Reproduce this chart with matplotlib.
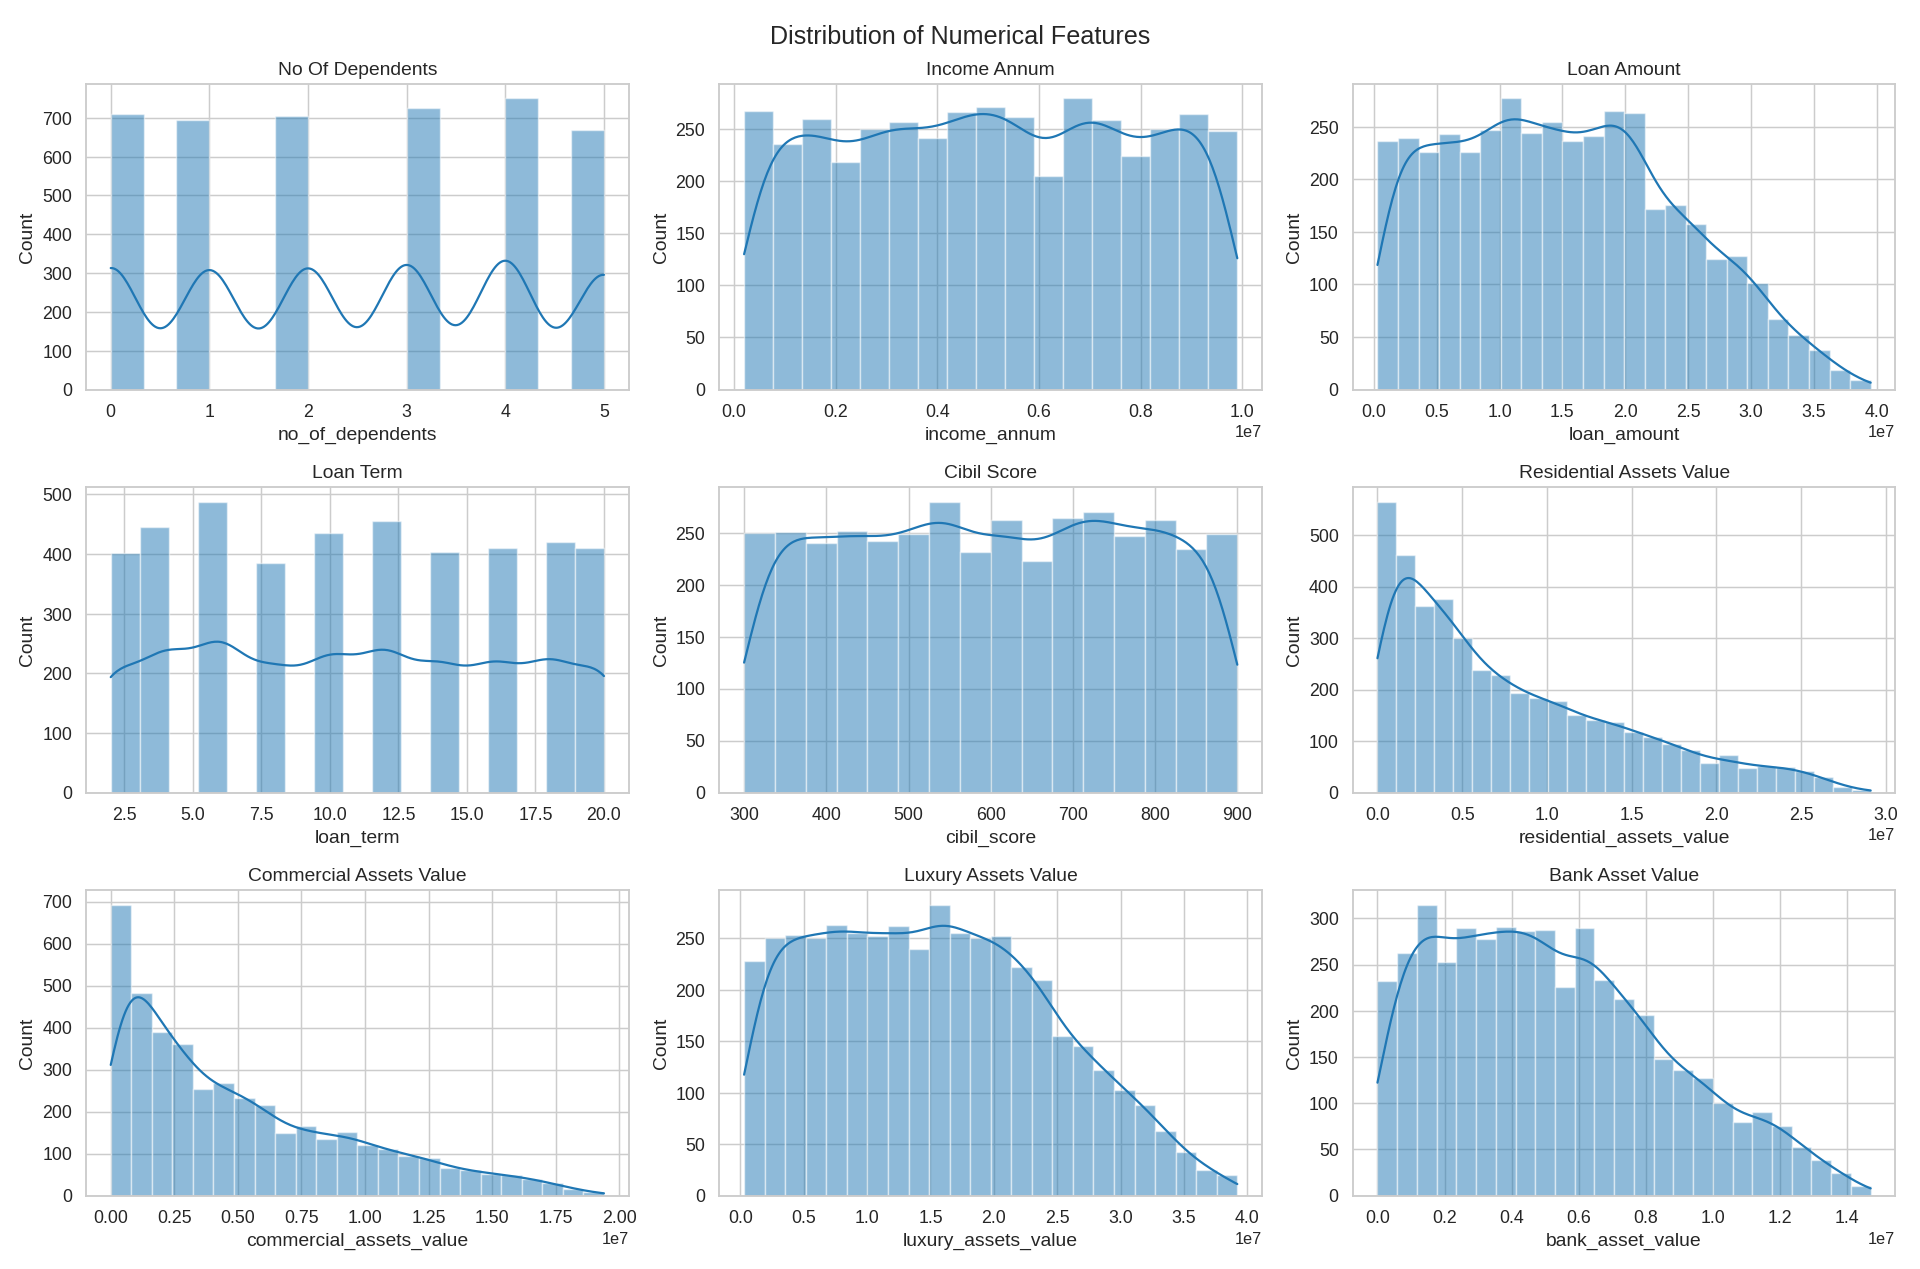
import numpy as np
import matplotlib
matplotlib.use('Agg')
import matplotlib.pyplot as plt
import seaborn as sns

sns.set_theme(style='whitegrid')
plt.rcParams['font.family'] = ['Liberation Sans', 'DejaVu Sans']

# discrete features: values and counts, binned by matplotlib
dep_values = [0, 1, 2, 3, 4, 5]
dep_counts = [710, 695, 705, 725, 750, 670]
term_values = [2, 4, 6, 8, 10, 12, 14, 16, 18, 20]
term_counts = [402, 445, 488, 385, 435, 455, 403, 410, 420, 410]

# continuous features: (range lo, range hi) and bar counts
income_range = (0.2e6, 9.9e6)
income_counts = [267, 235, 259, 218, 250, 256, 241, 266, 271, 261, 205, 279, 258, 224, 250, 264, 248]
loan_range = (0.3e6, 39.5e6)
loan_counts = [237, 239, 226, 243, 226, 247, 277, 244, 255, 237, 241, 265, 263, 172, 176, 158,
               124, 127, 101, 67, 52, 38, 19, 9]
cibil_range = (300, 900)
cibil_counts = [250, 251, 240, 252, 242, 249, 280, 231, 262, 223, 264, 270, 247, 262, 234, 249]
resid_range = (0, 29.1e6)
resid_counts = [565, 462, 362, 375, 300, 238, 228, 193, 183, 178, 150, 140, 137, 118, 108, 95,
                82, 57, 72, 47, 52, 50, 42, 30, 10, 5]
comm_range = (0, 19.4e6)
comm_counts = [693, 483, 390, 362, 253, 267, 232, 215, 148, 165, 135, 152, 120, 110, 95, 90,
               65, 60, 52, 48, 40, 30, 15, 8]
lux_range = (0.3e6, 39.2e6)
lux_counts = [228, 250, 253, 250, 263, 255, 252, 262, 240, 283, 255, 250, 252, 222, 210, 155,
              145, 122, 103, 88, 63, 42, 25, 20]
bank_range = (0, 14.7e6)
bank_counts = [232, 263, 315, 253, 290, 278, 291, 286, 287, 226, 290, 233, 213, 195, 148, 136,
               127, 100, 80, 90, 75, 53, 38, 25, 10]

color = '#1f77b4'


def kde_line(ax, x, w, edges, bw_scale=1.0):
    x = np.asarray(x, float)
    w = np.asarray(w, float)
    n = w.sum()
    mean = np.average(x, weights=w)
    sd = np.sqrt(np.average((x - mean) ** 2, weights=w))
    bw = sd * n ** (-0.2) * bw_scale
    grid = np.linspace(edges[0], edges[-1], 300)
    dens = (w[None, :] * np.exp(-0.5 * ((grid[:, None] - x[None, :]) / bw) ** 2)).sum(1)
    dens /= n * bw * np.sqrt(2 * np.pi)
    binw = edges[1] - edges[0]
    ax.plot(grid, dens * n * binw, color=color, lw=1.5)


def discrete_panel(ax, values, counts, nbins, bw_scale=1.0, nudge_below=None):
    edges = np.linspace(min(values), max(values), nbins + 1)
    pos = list(values)
    if nudge_below is not None:
        # values sitting on a bin edge fall into the left bin, as in the original
        pos = [v - 1e-6 if edges[0] < v < nudge_below else v for v in values]
    ax.hist(pos, bins=edges, weights=counts, color=color, alpha=0.5, edgecolor='white')
    kde_line(ax, values, counts, edges, bw_scale)


def cont_panel(ax, rng, counts):
    edges = np.linspace(rng[0], rng[1], len(counts) + 1)
    centers = (edges[:-1] + edges[1:]) / 2
    ax.hist(centers, bins=edges, weights=counts, color=color, alpha=0.5, edgecolor='white')
    kde_line(ax, centers, counts, edges)


fig, axes = plt.subplots(3, 3, figsize=(18, 11.9), dpi=106.67)
panels = [
    ('no_of_dependents', 'No Of Dependents', lambda a: discrete_panel(a, dep_values, dep_counts, 15, 0.95, 2.5)),
    ('income_annum', 'Income Annum', lambda a: cont_panel(a, income_range, income_counts)),
    ('loan_amount', 'Loan Amount', lambda a: cont_panel(a, loan_range, loan_counts)),
    ('loan_term', 'Loan Term', lambda a: discrete_panel(a, term_values, term_counts, 17, 0.95)),
    ('cibil_score', 'Cibil Score', lambda a: cont_panel(a, cibil_range, cibil_counts)),
    ('residential_assets_value', 'Residential Assets Value', lambda a: cont_panel(a, resid_range, resid_counts)),
    ('commercial_assets_value', 'Commercial Assets Value', lambda a: cont_panel(a, comm_range, comm_counts)),
    ('luxury_assets_value', 'Luxury Assets Value', lambda a: cont_panel(a, lux_range, lux_counts)),
    ('bank_asset_value', 'Bank Asset Value', lambda a: cont_panel(a, bank_range, bank_counts)),
]
for ax, (col, title, draw) in zip(axes.flat, panels):
    draw(ax)
    ax.set_title(title, fontsize=13)
    ax.set_xlabel(col, fontsize=13)
    ax.set_ylabel('Count', fontsize=13)
    ax.tick_params(labelsize=12)

fig.suptitle('Distribution of Numerical Features', fontsize=17)
plt.tight_layout(h_pad=1.2)
plt.savefig('out.png')
